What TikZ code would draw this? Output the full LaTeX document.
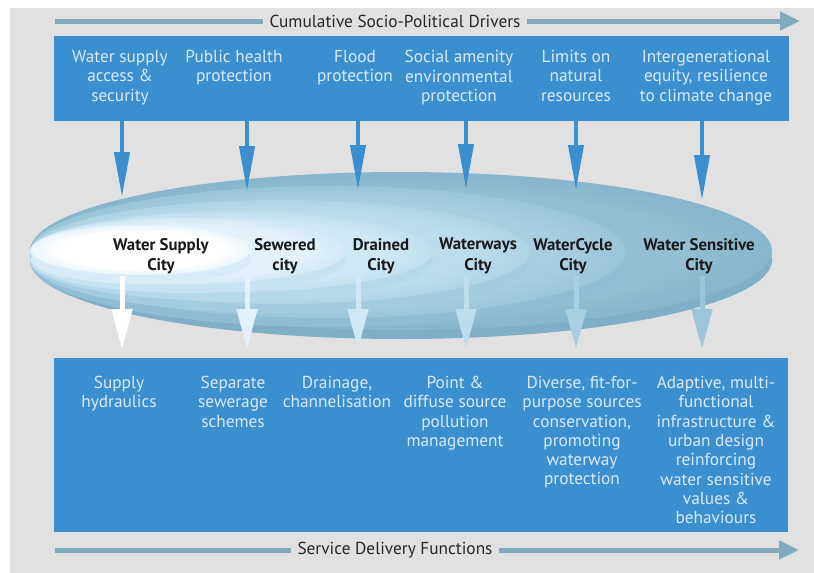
\documentclass[tikz,border=0pt]{standalone}
\usepackage{fontspec}
\setmainfont{PT Sans}
\usetikzlibrary{arrows.meta}
\colorlet{facecol}{white}
\colorlet{edgecol}{white}
\pgfdeclareradialshading[facecol,edgecol]{citydisc}{\pgfpoint{0bp}{0bp}}{color(0bp)=(facecol); color(19bp)=(facecol); color(25bp)=(edgecol); color(50bp)=(edgecol)}

\begin{document}
\begin{tikzpicture}[x=1pt,y=-1pt,
    flowline/.style={draw=linegray,line width=5pt},
    flowarrow/.style={flowline,-{Triangle[length=20pt,width=18pt]}},
    bluebox/.style={fill=boxblue,anchor=north west,inner sep=0pt},
    drvtext/.style={text=lightblue,align=center,anchor=north,inner sep=0pt,font=\fontsize{17.3}{19.5}\selectfont},
    fnctext/.style={drvtext,font=\fontsize{17.3}{19.3}\selectfont},
    headtext/.style={text=black!85,font=\fontsize{17.3}{19}\selectfont,inner sep=6pt},
    citytext/.style={text=black!90,align=center,font=\bfseries\fontsize{16.8}{20.5}\selectfont,inner sep=0pt},
    inarrow/.style={draw=boxblue,line width=4pt,-{Triangle[length=45pt,width=15pt]}},
    outarrow/.style={line width=5pt,-{Triangle[length=40pt,width=20pt]}}]
    \definecolor{bggray}{HTML}{E1E1E1}
    \definecolor{boxblue}{HTML}{3B8FCF}
    \definecolor{lightblue}{HTML}{D8EAF7}
    \definecolor{linegray}{HTML}{82AABD}
    \definecolor{face1}{HTML}{FFFFFF} \definecolor{rim1}{HTML}{D8ECF7}
    \definecolor{face2}{HTML}{E3F2FA} \definecolor{rim2}{HTML}{C5E3F2}
    \definecolor{face3}{HTML}{CFE8F5} \definecolor{rim3}{HTML}{B5D9EB}
    \definecolor{face4}{HTML}{BCDDED} \definecolor{rim4}{HTML}{A3CCE0}
    \definecolor{face5}{HTML}{A8CEE1} \definecolor{rim5}{HTML}{90BDD3}
    \definecolor{face6}{HTML}{93BED3} \definecolor{rim6}{HTML}{7FAEC6}
    \definecolor{arrow6}{HTML}{9CC5D9}
    \useasboundingbox (0,0) rectangle (814,573);
    \fill[white] (0,0) rectangle (814,573);
    \fill[bggray] (10,8) rectangle (814,573);  %background

    % drivers along the top
    \coordinate (tl) at (55,21);
    \coordinate (tr) at (800,21);
    \node[headtext] (cumul) at (395,21) {Cumulative Socio-Political Drivers};
    \draw[flowline] (tl) -- (cumul.west);
    \draw[flowarrow] (cumul.east) -- (tr);
    \node[bluebox,minimum width=735pt,minimum height=85pt] (drivers) at (54,36) {};
    \node[drvtext] (drv1) at (120,50) {Water supply\\access \&\\security};
    \node[drvtext] (drv2) at (234,50) {Public health\\protection};
    \node[drvtext] (drv3) at (355,50) {Flood\\protection};
    \node[drvtext] (drv4) at (459,50) {Social amenity\\environmental\\protection};
    \node[drvtext] (drv5) at (576,50) {Limits on\\natural\\resources};
    \node[drvtext] (drv6) at (706,50) {Intergenerational\\equity, resilience\\to climate change};

    % nested city ellipses, outermost first
    \foreach \cx/\cy/\a/\b/\i in {401/251/371/79/6, 328/252/298/66/5, 280/252/250/52/4, 231/252/201/40/3, 188/251/158/33/2, 141/250/110/25/1}
    {
      \colorlet{facecol}{face\i}
      \colorlet{edgecol}{face\i!45!rim\i}
      \fill[rim\i] (\cx,\cy+9) ellipse [x radius=\a, y radius=\b];
      \shade[shading=citydisc] (\cx,\cy) ellipse [x radius=\a, y radius=\b];
    }
    \node[citytext] (city1) at (161,256) {Water Supply\\City};
    \node[citytext] (city2) at (285,256) {Sewered\\city};
    \node[citytext] (city3) at (381,256) {Drained\\City};
    \node[citytext] (city4) at (478,256) {Waterways\\City};
    \node[citytext] (city5) at (573,256) {WaterCycle\\City};
    \node[citytext] (city6) at (699,256) {Water Sensitive\\City};

    % service functions along the bottom
    \node[bluebox,minimum width=734pt,minimum height=174pt] (functions) at (54,358) {};
    \node[fnctext] (fnc1) at (119,376) {Supply\\hydraulics};
    \node[fnctext] (fnc2) at (233,376) {Separate\\sewerage\\schemes};
    \node[fnctext] (fnc3) at (337,376) {Drainage,\\channelisation};
    \node[fnctext] (fnc4) at (455,376) {Point \&\\diffuse source\\pollution\\management};
    \node[fnctext] (fnc5) at (582,376) {Diverse, fit-for-\\purpose sources\\conservation,\\promoting\\waterway\\protection};
    \node[fnctext] (fnc6) at (716,376) {Adaptive, multi-\\functional\\infrastructure \&\\urban design\\reinforcing\\water sensitive\\values \&\\behaviours};
    \coordinate (bl) at (55,550);
    \coordinate (br) at (799,550);
    \node[headtext] (service) at (395,550) {Service Delivery Functions};
    \draw[flowline] (bl) -- (service.west);
    \draw[flowarrow] (service.east) -- (br);

    % arrows into and out of the cities
    \foreach \x/\tip/\i/\col in {122/197/1/face1, 247/191/2/face2, 358/190/3/face3, 466/189/4/face4, 576/190/5/face5, 702/200/6/arrow6}
    {
      \coordinate (in\i) at (\x,\tip);
      \coordinate (out\i) at (\x,276);
      \draw[inarrow] (drivers.south -| in\i) -- (in\i);
      \draw[outarrow,draw=\col] (out\i) -- ([yshift=9pt]functions.north -| out\i);
    }
\end{tikzpicture}
\end{document}
